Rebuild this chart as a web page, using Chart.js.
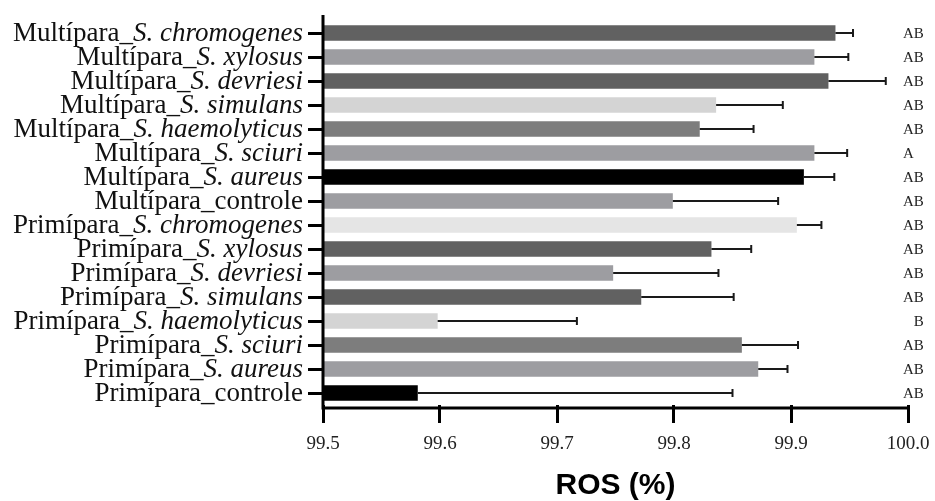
<!DOCTYPE html>
<html><head><meta charset="utf-8">
<script src="https://cdn.jsdelivr.net/npm/chart.js@4"></script>
<style>html,body{margin:0;padding:0;background:#fff}</style>
</head><body>
<canvas id="c" width="935" height="501"></canvas>
<script>
const categories = [
  'Multípara_S. chromogenes','Multípara_S. xylosus','Multípara_S. devriesi','Multípara_S. simulans',
  'Multípara_S. haemolyticus','Multípara_S. sciuri','Multípara_S. aureus','Multípara_controle',
  'Primípara_S. chromogenes','Primípara_S. xylosus','Primípara_S. devriesi','Primípara_S. simulans',
  'Primípara_S. haemolyticus','Primípara_S. sciuri','Primípara_S. aureus','Primípara_controle'
];
const rosValues = [99.938,99.920,99.932,99.836,99.822,99.920,99.911,99.799,
                   99.905,99.832,99.748,99.772,99.598,99.858,99.872,99.581];
const rosErrors = [0.015,0.029,0.049,0.057,0.046,0.028,0.026,0.090,
                   0.021,0.034,0.090,0.079,0.119,0.048,0.025,0.269];
const groupLetters = ['AB','AB','AB','AB','AB','A','AB','AB','AB','AB','AB','AB','B','AB','AB','AB'];
const barColors = ['#616161','#9d9da1','#606060','#d4d4d4','#7d7d7d','#9d9da1','#000000','#9d9da1',
                   '#e5e5e5','#616161','#9d9da1','#616161','#d4d4d4','#7d7d7d','#9d9da1','#000000'];
const xMin = 99.5, xMax = 100.0, xStep = 0.1;
const axisTitle = 'ROS (%)';

const SERIF = '"Liberation Serif", "Times New Roman", serif';

const overlay = {
  id: 'overlay',
  afterDatasetsDraw(chart) {
    const ctx = chart.ctx, x = chart.scales.x, y = chart.scales.y, a = chart.chartArea;
    ctx.save();
    // error bars
    ctx.strokeStyle = '#1a1a1a'; ctx.lineWidth = 2;
    rosValues.forEach((v, i) => {
      const yc = y.getPixelForValue(i);
      const x0 = x.getPixelForValue(v), x1 = x.getPixelForValue(v + rosErrors[i]);
      ctx.beginPath();
      ctx.moveTo(x0, yc); ctx.lineTo(x1, yc);
      ctx.moveTo(x1, yc - 4); ctx.lineTo(x1, yc + 4);
      ctx.stroke();
    });
    // axis lines
    const xr = x.getPixelForValue(xMax);
    ctx.strokeStyle = '#000'; ctx.lineWidth = 3;
    ctx.beginPath();
    ctx.moveTo(a.left, a.top - 6); ctx.lineTo(a.left, a.bottom + 4.5);
    ctx.moveTo(a.left - 1.5, a.bottom + 3); ctx.lineTo(xr + 1.5, a.bottom + 3);
    ctx.stroke();
    // category labels with italic species
    ctx.fillStyle = '#111'; ctx.textAlign = 'left'; ctx.textBaseline = 'alphabetic';
    const fs = 27;
    categories.forEach((lab, i) => {
      const yb = y.getPixelForValue(i) + 8;
      const k = lab.indexOf('_');
      const pre = lab.slice(0, k + 1), sp = lab.slice(k + 1);
      const ital = sp.startsWith('S.');
      const f1 = fs + 'px ' + SERIF, f2 = (ital ? 'italic ' : '') + fs + 'px ' + SERIF;
      ctx.font = f1; const w1 = ctx.measureText(pre).width;
      ctx.font = f2; const w2 = ctx.measureText(sp).width;
      const xe = a.left - 20;
      ctx.font = f1; ctx.fillText(pre, xe - w1 - w2, yb);
      ctx.font = f2; ctx.fillText(sp, xe - w2, yb);
    });
    // significance letters
    ctx.font = '15px ' + SERIF; ctx.fillStyle = '#222';
    const wA = ctx.measureText('A').width;
    groupLetters.forEach((t, i) => {
      const yb = y.getPixelForValue(i) + 5;
      const xs = xr - 5 + (t === 'B' ? wA : 0);
      ctx.fillText(t, xs, yb);
    });
    ctx.restore();
  }
};

new Chart(document.getElementById('c'), {
  type: 'bar',
  data: {
    labels: categories,
    datasets: [{
      data: rosValues,
      backgroundColor: barColors,
      borderWidth: 0,
      barPercentage: 0.65,
      categoryPercentage: 1.0
    }]
  },
  options: {
    indexAxis: 'y',
    responsive: false,
    animation: false,
    layout: { padding: { left: 0, right: 27, top: 21, bottom: 0 } },
    plugins: { legend: { display: false }, tooltip: { enabled: false } },
    scales: {
      x: {
        type: 'linear', min: xMin, max: xMax,
        border: { display: false },
        grid: { display: true, drawOnChartArea: false, drawTicks: true, tickLength: 18, lineWidth: 3, color: '#000' },
        ticks: { stepSize: xStep, padding: 10, color: '#222', font: { family: 'Liberation Serif', size: 19 },
                 callback: v => Number(v).toFixed(1) },
        title: { display: true, text: axisTitle, color: '#000', padding: { top: 0, bottom: -3 },
                 font: { family: 'Liberation Sans', size: 30, weight: 'bold' } },
        afterFit: s => { s.height = 96; s.paddingLeft = 0; s.paddingRight = 0; }
      },
      y: {
        border: { display: false },
        grid: { display: true, offset: false, drawOnChartArea: false, drawTicks: true, tickLength: 15, lineWidth: 3, color: '#000' },
        ticks: { display: false },
        afterFit: s => { s.width = 323; }
      }
    }
  },
  plugins: [overlay]
});
</script>
</body></html>
